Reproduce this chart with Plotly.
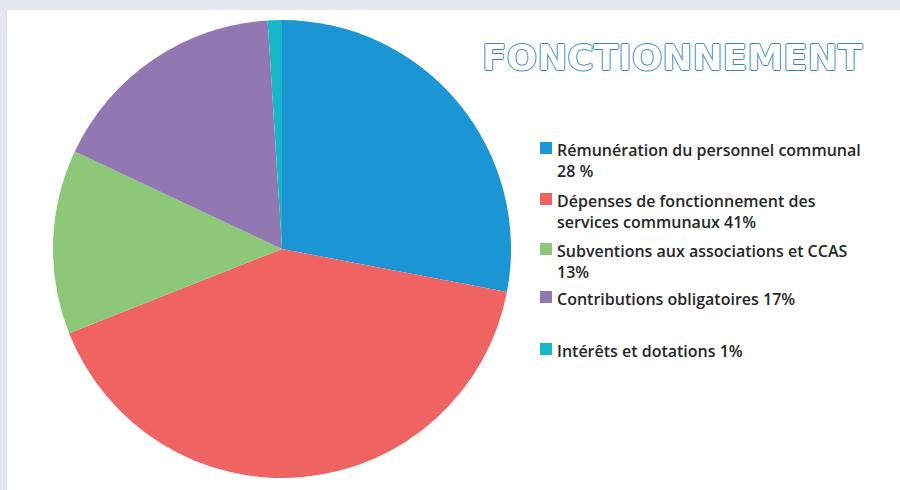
import plotly.graph_objects as go

W, H = 900, 490

# Data
categories = [
    "Rémunération du personnel communal",
    "Dépenses de fonctionnement des services communaux",
    "Subventions aux associations et CCAS",
    "Contributions obligatoires",
    "Intérêts et dotations",
]
values = [28, 41, 13, 17, 1]
legend_labels = [
    "Rémunération du personnel communal<br>28 %",
    "Dépenses de fonctionnement des<br>services communaux 41%",
    "Subventions aux associations et CCAS<br>13%",
    "Contributions obligatoires 17%",
    "Intérêts et dotations 1%",
]
colors = ["#1B95D4", "#EF6463", "#8CC877", "#9278B3", "#17B7C9"]
title_text = "FONCTIONNEMENT"

fig = go.Figure()
fig.add_trace(go.Pie(
    labels=categories,
    values=values,
    sort=False,
    direction="clockwise",
    rotation=0,
    marker=dict(colors=colors, line=dict(width=0)),
    textinfo="none",
    hoverinfo="label+percent",
    showlegend=False,
    domain=dict(x=[53 / W, 511 / W], y=[12 / H, 470 / H]),
))

shapes = [
    dict(type="rect", xref="paper", yref="paper", x0=7 / W, x1=1.01, y0=-0.01, y1=1 - 10 / H,
         fillcolor="white", line=dict(width=0), layer="below"),
]
annotations = []

# manual legend (positions in pixels)
legend_y = [148, 199, 249, 297, 349]
sq = 12
for lab, col, yy in zip(legend_labels, colors, legend_y):
    shapes.append(dict(type="rect", xref="paper", yref="paper",
                       x0=540 / W, x1=(540 + sq) / W,
                       y0=1 - (yy + sq / 2) / H, y1=1 - (yy - sq / 2) / H,
                       fillcolor=col, line=dict(width=0)))
    annotations.append(dict(
        text=lab, xref="paper", yref="paper", x=555 / W, y=1 - (yy - 11) / H,
        xanchor="left", yanchor="top", align="left", showarrow=False,
        font=dict(family="Open Sans", size=16, color="#262626", weight=600),
    ))

outline = "#3A84CA"
annotations.append(dict(
    text=title_text, xref="paper", yref="paper", x=672 / W, y=1 - 58 / H,
    xanchor="center", yanchor="middle", showarrow=False,
    font=dict(family="DejaVu Sans", size=36, color="white", weight="bold",
              shadow=(f"1px 0 0 {outline}, -1px 0 0 {outline}, 0 1px 0 {outline}, 0 -1px 0 {outline}")),
))

fig.update_layout(
    width=W, height=H,
    margin=dict(l=0, r=0, t=0, b=0),
    paper_bgcolor="#E3E7F1",
    plot_bgcolor="white",
    shapes=shapes,
    annotations=annotations,
)

fig.write_html(
    "out.html",
    config={"displayModeBar": False},
    post_script="document.body.style.margin='0';document.body.style.overflow='hidden';",
)
